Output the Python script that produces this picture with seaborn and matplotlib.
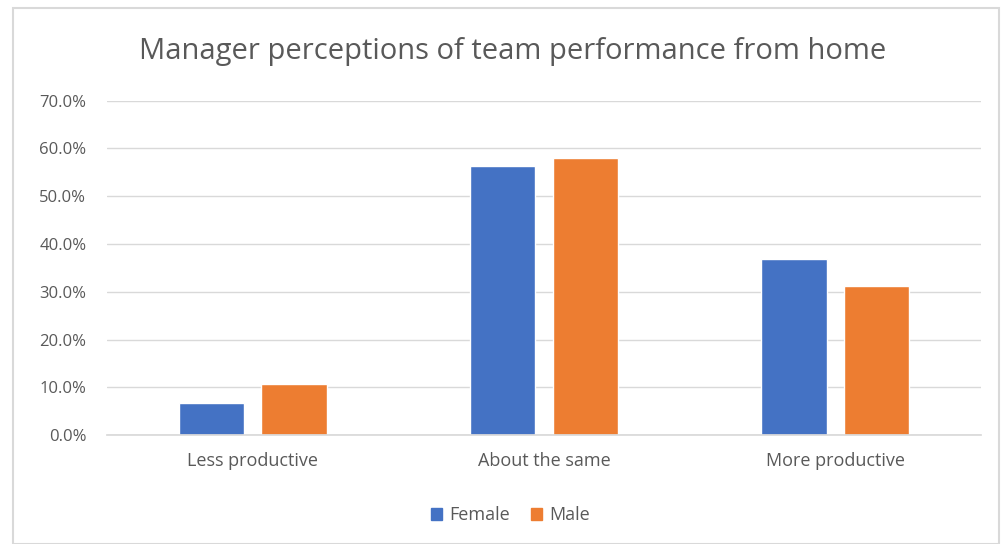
import numpy as np
import pandas as pd
import matplotlib.pyplot as plt
import seaborn as sns
from matplotlib.ticker import PercentFormatter
from matplotlib.patches import Rectangle

categories = ['Less productive', 'About the same', 'More productive']
female = [6.8, 56.3, 36.9]
male = [10.7, 58.0, 31.3]
groups = ['Female', 'Male']

df = pd.DataFrame({
	'category': categories * 2,
	'gender': ['Female'] * 3 + ['Male'] * 3,
	'value': female + male,
})

sns.set_theme(style='white')
plt.rcParams['font.family'] = ['Open Sans', 'DejaVu Sans']

fig = plt.figure(figsize=(10.01, 5.44), dpi=100)
ax = fig.add_axes([0.107, 0.2, 0.873, 0.615])

ax.yaxis.grid(True, color='#d9d9d9', linewidth=1)
ax.set_axisbelow(True)
sns.barplot(data=df, x='category', y='value', hue='gender', hue_order=groups,
            palette=['#4472C4', '#ED7D31'], width=0.567, gap=0.21,
            saturation=1, ax=ax, legend=False)

ax.set_ylim(0, 70)
ax.set_yticks(np.arange(0, 71, 10))
ax.yaxis.set_major_formatter(PercentFormatter(decimals=1))
ax.set_xlim(-0.5, 2.5)
ax.set_xlabel('')
ax.set_ylabel('')
for s in ['top', 'right', 'left']:
	ax.spines[s].set_visible(False)
ax.spines['bottom'].set_color('#d9d9d9')
ax.tick_params(axis='y', colors='#595959', labelsize=12, length=0, pad=15)
ax.tick_params(axis='x', colors='#595959', labelsize=13, length=0, pad=12)

fig.text(0.512, 0.905, 'Manager perceptions of team performance from home',
         ha='center', va='center', fontsize=21, color='#595959')

# legend
handles = [Rectangle((0, 0), 1, 1, color=c) for c in ['#4472C4', '#ED7D31']]
fig.legend(handles, groups, loc='center', bbox_to_anchor=(0.51, 0.053), ncol=2,
           frameon=False, fontsize=13, labelcolor='#595959', handlelength=0.6,
           handleheight=0.6, columnspacing=1.2, handletextpad=0.4)

# chart border
fig.add_artist(Rectangle((0.013, 0.0), 0.985, 0.985, transform=fig.transFigure,
                         fill=False, edgecolor='#d9d9d9', linewidth=1.5))

fig.savefig('out.png', dpi=100)
